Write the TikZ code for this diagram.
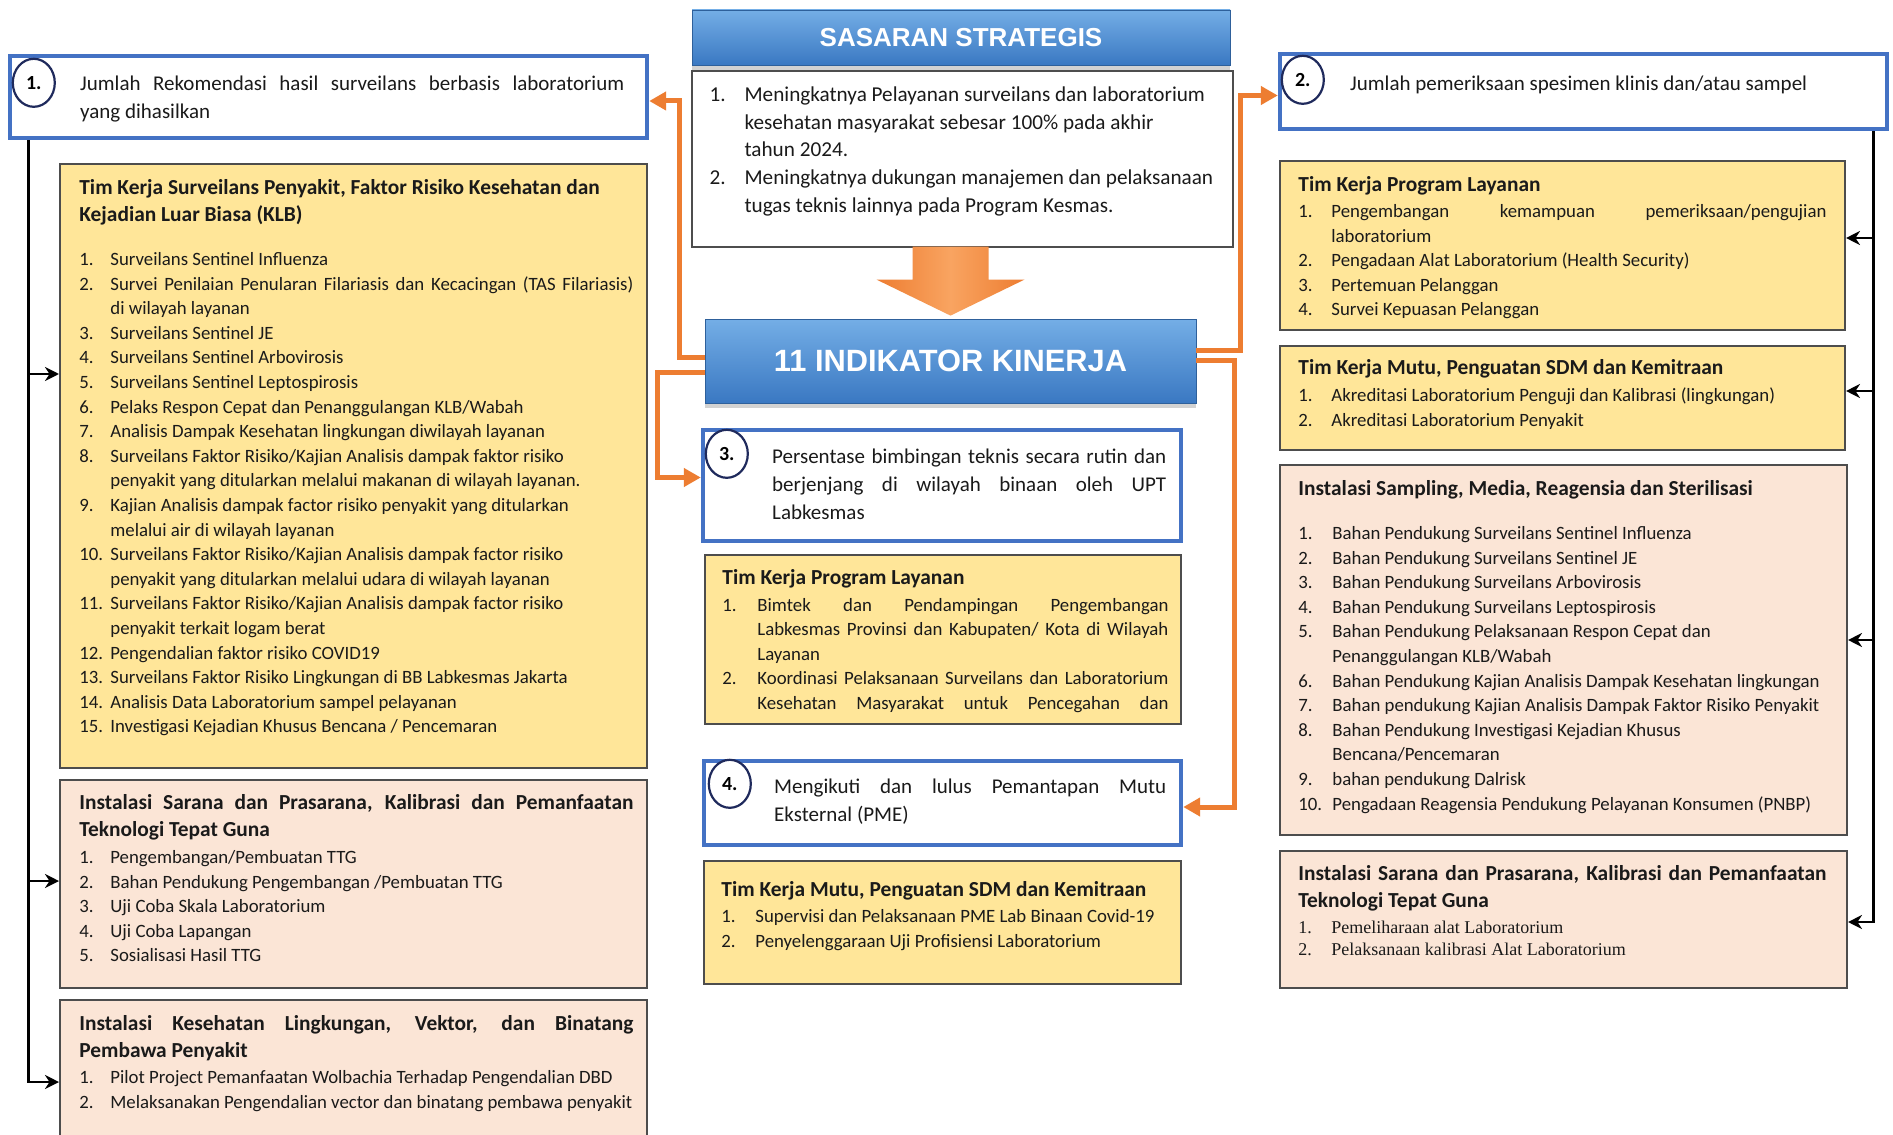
\documentclass[tikz,border=0pt]{standalone}
\usepackage{fontspec}
\setmainfont{Carlito}
\newfontfamily\hdrfont{Liberation Sans}
\newfontfamily\tmsfont{Liberation Serif}
\usetikzlibrary{arrows.meta,fit,shapes.geometric,shadows}

\definecolor{indblue}{HTML}{4472C4}
\definecolor{navy}{HTML}{1F2A5C}
\definecolor{tkyellow}{HTML}{FFE699}
\definecolor{instpink}{HTML}{FBE5D6}
\definecolor{boxgray}{HTML}{4D4D4D}
\definecolor{korange}{HTML}{ED7D31}
\definecolor{korangelt}{HTML}{F9A461}
\definecolor{hdrtop}{HTML}{74AEE6}
\definecolor{hdrbot}{HTML}{3A78C2}
\definecolor{textblk}{HTML}{1A1A1A}

\setlength{\parindent}{0pt}
\newlength{\itmind}
% numbered entry with hanging indent
\newcommand{\itm}[2]{\noindent\hangindent=\itmind\hangafter=1\makebox[\itmind][l]{#1}#2\par}
% bold title of a team / installation
\newcommand{\hd}[2][1pt]{{\noindent\bfseries\fontsize{10.7}{13.5}\selectfont #2\par}\vskip#1}

\begin{document}
\begin{tikzpicture}[x=0.5pt,y=-0.5pt,
    box/.style={inner sep=0pt, line width=1pt, draw=boxgray},
    ybox/.style={box, fill=tkyellow},
    pbox/.style={box, fill=instpink},
    indbox/.style={inner sep=0pt, line width=2.2pt, draw=indblue, fill=white},
    hdrbar/.style={inner sep=0pt, draw=hdrbot!80!black, line width=0.4pt,
      top color=hdrtop, bottom color=hdrbot,
      drop shadow={opacity=0.35, shadow xshift=0pt, shadow yshift=-2.5pt}},
    hdrtxt/.style={inner sep=0pt, text=white},
    numcirc/.style={ellipse, draw=navy, line width=1.1pt, fill=white,
      minimum width=21pt, minimum height=24pt, inner sep=0pt,
      font=\bfseries\fontsize{10}{12}\selectfont},
    txt/.style={anchor=north west, inner sep=0pt, align=justify, text=textblk,
      font=\fontsize{9.4}{12.3}\selectfont},
    bigtxt/.style={txt, font=\fontsize{10.5}{14}\selectfont},
    itemind/.style={execute at begin node={\setlength{\itmind}{#1}}},
    oarr/.style={draw=korange, line width=2.5pt, -{Triangle[length=8.5pt,width=9pt]}},
    barr/.style={draw=black, line width=1.4pt, -{Stealth[length=7pt,width=7pt]}},
  ]

\fill[white] (0,0) rectangle (1893,1134);
\useasboundingbox (0,0) rectangle (1893,1134);

% ---------------- centre column
\node[hdrbar, fit={(692,10)(1230,65)}] (sshead) {};
\node[hdrtxt, font=\hdrfont\bfseries\fontsize{13}{15}\selectfont] (ssheadTxt) at (sshead.center) {SASARAN STRATEGIS};
\node[draw=boxgray, line width=0.8pt, fill=white, inner sep=0pt, fit={(692,71)(1233,247)}] (ssbox) {};
\node[txt, font=\fontsize{10.6}{13.9}\selectfont, text width=258pt, itemind=17.5pt] (ssTxt)
  at ([shift={(18,16)}]ssbox.north west) {%
  \itm{1.}{Meningkatnya Pelayanan surveilans dan laboratorium\newline kesehatan masyarakat  sebesar 100\%  pada akhir\newline tahun 2024.}%
  \itm{2.}{Meningkatnya dukungan manajemen dan pelaksanaan\newline tugas teknis lainnya pada Program Kesmas.}};

\node[hdrbar, fit={(705,319)(1196,403)}] (kinerja) {};
\node[hdrtxt, font=\hdrfont\bfseries\fontsize{15.4}{18}\selectfont] (kinerjaTxt) at (kinerja.center) {11 INDIKATOR KINERJA};

% big arrow from the goals down to the indicators
\shade[left color=korange, right color=korange, middle color=korangelt]
  ([shift={(-38,-72)}]kinerja.north) -- ([shift={(38,-72)}]kinerja.north)
  -- ([shift={(38,-39)}]kinerja.north) -- ([shift={(74,-39)}]kinerja.north)
  -- ([shift={(0,-3)}]kinerja.north) -- ([shift={(-74,-39)}]kinerja.north)
  -- ([shift={(-38,-39)}]kinerja.north) -- cycle;

\node[indbox, fit={(703,430)(1181,541)}] (ind3) {};
\node[numcirc] (c3) at ([shift={(26,26)}]ind3.north west) {3.};
\node[bigtxt, text width=197pt] (ind3Txt) at ([shift={(71,21)}]ind3.north west)
  {Persentase bimbingan teknis secara rutin dan\linebreak berjenjang di wilayah binaan oleh UPT\linebreak Labkesmas};

\node[ybox, fit={(705,555)(1181,724)}] (tkLayC) {};
\node[txt, text width=223pt, itemind=17.5pt] (tkLayCTxt) at ([shift={(18,15)}]tkLayC.north west) {%
  \hd{Tim Kerja Program Layanan}%
  \itm{1.}{Bimtek dan Pendampingan Pengembangan\linebreak Labkesmas Provinsi dan Kabupaten/ Kota di Wilayah\linebreak Layanan}%
  \itm{2.}{Koordinasi Pelaksanaan Surveilans dan Laboratorium\linebreak Kesehatan Masyarakat untuk Pencegahan dan\linebreak\mbox{}}};

\node[indbox, fit={(704,761)(1181,845)}] (ind4) {};
\node[numcirc] (c4) at ([shift={(28,25)}]ind4.north west) {4.};
\node[bigtxt, text width=196pt] (ind4Txt) at ([shift={(72,20)}]ind4.north west)
  {Mengikuti dan lulus Pemantapan Mutu\linebreak Eksternal (PME)};

\node[ybox, fit={(704,861)(1181,984)}] (tkMutuC) {};
\node[txt, text width=223pt, itemind=17pt] (tkMutuCTxt) at ([shift={(18,21)}]tkMutuC.north west) {%
  \hd[0.7pt]{Tim Kerja Mutu, Penguatan SDM dan Kemitraan}%
  \itm{1.}{Supervisi dan Pelaksanaan PME Lab Binaan Covid-19}%
  \itm{2.}{Penyelenggaraan Uji Profisiensi Laboratorium}};

% ---------------- left column
\node[indbox, fit={(10,56)(647,138)}] (ind1) {};
\node[numcirc] (c1) at ([shift={(26,29)}]ind1.north west) {1.};
\node[bigtxt, text width=272pt] (ind1Txt) at ([shift={(72,22)}]ind1.north west)
  {Jumlah Rekomendasi hasil surveilans berbasis laboratorium\linebreak yang dihasilkan};

\node[ybox, fit={(60,164)(647,768)}] (tkSurv) {};
\node[txt, text width=277pt, itemind=15.5pt] (tkSurvTxt) at ([shift={(20,16)}]tkSurv.north west) {%
  \hd[9.7pt]{Tim Kerja Surveilans Penyakit, Faktor Risiko Kesehatan dan\newline Kejadian Luar Biasa (KLB)}%
  \itm{1.}{Surveilans Sentinel Influenza}%
  \itm{2.}{Survei Penilaian Penularan Filariasis dan Kecacingan (TAS Filariasis)\linebreak di wilayah layanan}%
  \itm{3.}{Surveilans Sentinel JE}%
  \itm{4.}{Surveilans Sentinel Arbovirosis}%
  \itm{5.}{Surveilans Sentinel Leptospirosis}%
  \itm{6.}{Pelaks Respon Cepat dan Penanggulangan KLB/Wabah}%
  \itm{7.}{Analisis Dampak Kesehatan lingkungan diwilayah layanan}%
  \itm{8.}{Surveilans Faktor Risiko/Kajian Analisis dampak faktor risiko\newline penyakit yang ditularkan melalui makanan di wilayah layanan.}%
  \itm{9.}{Kajian Analisis dampak factor risiko penyakit yang ditularkan\newline melalui air di wilayah layanan}%
  \itm{10.}{Surveilans Faktor Risiko/Kajian Analisis dampak factor risiko\newline penyakit yang ditularkan melalui udara di wilayah layanan}%
  \itm{11.}{Surveilans Faktor Risiko/Kajian Analisis dampak factor risiko\newline penyakit terkait logam berat}%
  \itm{12.}{Pengendalian faktor risiko COVID19}%
  \itm{13.}{Surveilans Faktor Risiko Lingkungan di BB Labkesmas Jakarta}%
  \itm{14.}{Analisis Data Laboratorium sampel pelayanan}%
  \itm{15.}{Investigasi Kejadian Khusus Bencana / Pencemaran}};

\node[pbox, fit={(60,780)(647,988)}] (instTtgL) {};
\node[txt, text width=277pt, itemind=15.5pt] (instTtgLTxt) at ([shift={(20,15)}]instTtgL.north west) {%
  \hd[1.2pt]{Instalasi Sarana dan Prasarana, Kalibrasi dan Pemanfaatan\linebreak Teknologi Tepat Guna}%
  \itm{1.}{Pengembangan/Pembuatan TTG}%
  \itm{2.}{Bahan Pendukung Pengembangan /Pembuatan TTG}%
  \itm{3.}{Uji Coba Skala Laboratorium}%
  \itm{4.}{Uji Coba Lapangan}%
  \itm{5.}{Sosialisasi Hasil TTG}};

\node[pbox, fit={(60,1000)(647,1150)}] (instKes) {};
\node[txt, text width=277pt, itemind=15.5pt] (instKesTxt) at ([shift={(20,16)}]instKes.north west) {%
  \hd[0.7pt]{Instalasi Kesehatan Lingkungan, Vektor, dan Binatang\linebreak Pembawa Penyakit}%
  \itm{1.}{Pilot Project Pemanfaatan Wolbachia Terhadap Pengendalian DBD}%
  \itm{2.}{Melaksanakan Pengendalian vector dan binatang pembawa penyakit}};

% ---------------- right column
\node[indbox, fit={(1280,54)(1887,129)}] (ind2) {};
\node[numcirc] (c2) at ([shift={(25,28)}]ind2.north west) {2.};
\node[bigtxt, text width=250pt] (ind2Txt) at ([shift={(72,24)}]ind2.north west)
  {Jumlah pemeriksaan spesimen klinis dan/atau sampel};

\node[ybox, fit={(1280,161)(1845,330)}] (tkLayR) {};
\node[txt, text width=264pt, itemind=16.5pt] (tkLayRTxt) at ([shift={(19,16)}]tkLayR.north west) {%
  \hd[0.7pt]{Tim Kerja Program Layanan}%
  \itm{1.}{Pengembangan kemampuan pemeriksaan/pengujian\linebreak laboratorium}%
  \itm{2.}{Pengadaan Alat Laboratorium (Health Security)}%
  \itm{3.}{Pertemuan Pelanggan}%
  \itm{4.}{Survei Kepuasan Pelanggan}};

\node[ybox, fit={(1280,346)(1845,450)}] (tkMutuR) {};
\node[txt, text width=264pt, itemind=16.5pt] (tkMutuRTxt) at ([shift={(19,14)}]tkMutuR.north west) {%
  \hd[1.2pt]{Tim Kerja Mutu, Penguatan SDM dan Kemitraan}%
  \itm{1.}{Akreditasi Laboratorium Penguji dan Kalibrasi (lingkungan)}%
  \itm{2.}{Akreditasi Laboratorium Penyakit}};

\node[pbox, fit={(1280,465)(1847,835)}] (instSmp) {};
\node[txt, text width=268pt, itemind=17pt] (instSmpTxt) at ([shift={(19,16)}]instSmp.north west) {%
  \hd[9.7pt]{Instalasi Sampling, Media, Reagensia dan Sterilisasi}%
  \itm{1.}{Bahan Pendukung Surveilans Sentinel Influenza}%
  \itm{2.}{Bahan Pendukung Surveilans Sentinel JE}%
  \itm{3.}{Bahan Pendukung Surveilans Arbovirosis}%
  \itm{4.}{Bahan Pendukung Surveilans Leptospirosis}%
  \itm{5.}{Bahan Pendukung Pelaksanaan Respon Cepat dan\newline Penanggulangan KLB/Wabah}%
  \itm{6.}{Bahan Pendukung Kajian Analisis Dampak Kesehatan lingkungan}%
  \itm{7.}{Bahan pendukung Kajian  Analisis Dampak Faktor Risiko Penyakit}%
  \itm{8.}{Bahan Pendukung Investigasi Kejadian Khusus\newline Bencana/Pencemaran}%
  \itm{9.}{bahan pendukung Dalrisk}%
  \itm{10.}{Pengadaan Reagensia Pendukung Pelayanan Konsumen (PNBP)}};

\node[pbox, fit={(1280,851)(1847,988)}] (instTtgR) {};
\node[txt, text width=264pt, itemind=16.5pt] (instTtgRTxt) at ([shift={(19,15)}]instTtgR.north west) {%
  \hd[2pt]{Instalasi Sarana dan Prasarana, Kalibrasi dan Pemanfaatan\linebreak Teknologi Tepat Guna}%
  \tmsfont\fontsize{9}{11}\selectfont
  \itm{1.}{Pemeliharaan alat  Laboratorium}%
  \itm{2.}{Pelaksanaan kalibrasi Alat Laboratorium}};

% ---------------- orange links from the indicators box
\draw[oarr] ([yshift=2pt]kinerja.west) -- ++(-25,0) |- ([yshift=-2pt]ind1.east);
\draw[oarr] ([yshift=-5.5pt]kinerja.west) -- ++(-47,0) |- ([yshift=4pt]ind3.west);
\draw[oarr] ([yshift=5.5pt]kinerja.east) -- ++(44,0) |- ([yshift=-2pt]ind2.west);
\draw[oarr] ([yshift=0.5pt]kinerja.east) -- ++(38,0) |- ([yshift=-2pt]ind4.east);

% ---------------- black trunks to the work units
\coordinate (ltrunk) at ([xshift=10.5pt]ind1.south west);
\coordinate (inA) at ([yshift=46pt]tkSurv.west);
\coordinate (inB) at ([yshift=1.5pt]instTtgL.west);
\coordinate (inC) at ([yshift=-3.5pt]instKes.west);
\draw[barr] (ltrunk) |- (inC);
\draw[barr] (ltrunk |- inA) -- (inA);
\draw[barr] (ltrunk |- inB) -- (inB);

\coordinate (rtrunk) at ([xshift=-8pt]ind2.south east);
\coordinate (inD) at ([yshift=3.75pt]tkLayR.east);
\coordinate (inE) at ([yshift=3.5pt]tkMutuR.east);
\coordinate (inF) at ([yshift=5pt]instSmp.east);
\coordinate (inG) at ([yshift=-1.25pt]instTtgR.east);
\draw[barr] (rtrunk) |- (inG);
\draw[barr] (rtrunk |- inD) -- (inD);
\draw[barr] (rtrunk |- inE) -- (inE);
\draw[barr] (rtrunk |- inF) -- (inF);
\end{tikzpicture}
\end{document}
